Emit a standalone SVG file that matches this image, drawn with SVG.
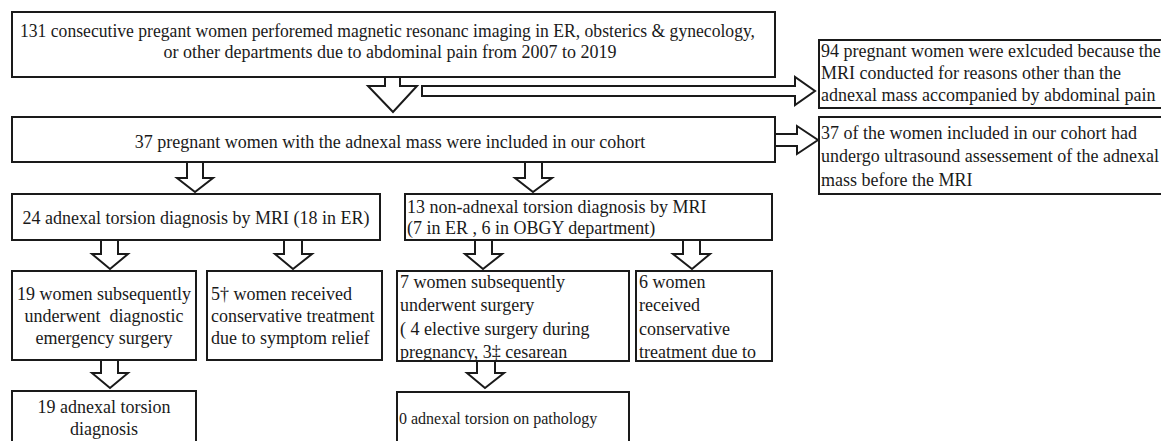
<svg xmlns="http://www.w3.org/2000/svg" width="1161" height="441" viewBox="0 0 1161 441">
<style>
.box{fill:none;stroke:#1a1a1a;stroke-width:2}
.arr{fill:#fff;stroke:#1a1a1a;stroke-width:2;stroke-linejoin:miter}
text{font-family:"Liberation Serif","Times New Roman",serif;font-size:18px;fill:#1a1a1a}
.c{text-anchor:middle}
.sm{font-size:16px}
</style>
<rect width="1161" height="441" fill="#fff"/>
<g id="connectors">
<polygon class="arr" points="385,77 400,77 400,86 417,86 393,112 368,86 385,86"/>
<polygon class="arr" points="422,86 795,86 795,77 815,91 795,105 795,96 422,96"/>
<polygon class="arr" points="775,134 797,134 797,126 818,140 797,154 797,146 775,146"/>
<polygon class="arr" points="187,162 203,162 203,178 213,178 195,192 177,178 187,178"/>
<polygon class="arr" points="525,162 542,162 542,178 552,178 533,192 515,178 525,178"/>
<polygon class="arr" points="101,240 118,240 118,254 128,254 110,269 92,254 101,254"/>
<polygon class="arr" points="284,240 302,240 302,254 312,254 293,269 275,254 284,254"/>
<polygon class="arr" points="475,240 492,240 492,254 502,254 483,269 465,254 475,254"/>
<polygon class="arr" points="683,240 700,240 700,254 710,254 692,269 673,254 683,254"/>
<polygon class="arr" points="101,360 118,360 118,373 128,373 110,388 92,373 101,373"/>
<polygon class="arr" points="477,361 495,361 495,373 504,373 485,388 467,373 477,373"/>
</g>
<g id="n1">
<text x="20" y="37" textLength="735" lengthAdjust="spacingAndGlyphs">131 consecutive pregant women perforemed magnetic resonanc imaging in ER, obsterics &amp; gynecology,</text>
<text class="c" x="390" y="58">or other departments due to abdominal pain from 2007 to 2019</text>
<rect class="box" x="12" y="12" width="763" height="65"/>
</g>
<g id="n_excluded">
<text x="821" y="57">94 pregnant women were exlcuded because the</text>
<text x="821" y="79">MRI conducted for reasons other than the</text>
<text x="821" y="101">adnexal mass accompanied by abdominal pain</text>
<rect class="box" x="819" y="40" width="360" height="68"/>
</g>
<g id="n2">
<text class="c" x="390" y="148">37 pregnant women with the adnexal mass were included in our cohort</text>
<rect class="box" x="12" y="117" width="763" height="45"/>
</g>
<g id="n_ultrasound">
<text x="821" y="139">37 of the women included in our cohort had</text>
<text x="821" y="162">undergo ultrasound assessement of the adnexal</text>
<text x="821" y="186">mass before the MRI</text>
<rect class="box" x="819" y="117" width="360" height="77"/>
</g>
<g id="n3">
<text class="c" x="196" y="224">24 adnexal torsion diagnosis by MRI (18 in ER)</text>
<rect class="box" x="12" y="194" width="368" height="46"/>
</g>
<g id="n4">
<text x="407" y="213">13 non-adnexal torsion diagnosis by MRI</text>
<text x="407" y="234">(7 in ER , 6 in OBGY department)</text>
<rect class="box" x="405" y="194" width="367" height="46"/>
</g>
<g id="n5">
<text class="c" x="104" y="300">19 women subsequently</text>
<text class="c" x="104" y="322" style="white-space:pre">underwent  diagnostic</text>
<text class="c" x="104" y="344">emergency surgery</text>
<rect class="box" x="12" y="271" width="184" height="89"/>
</g>
<g id="n6">
<text x="211" y="300">5† women received</text>
<text x="211" y="322">conservative treatment</text>
<text x="211" y="344">due to symptom relief</text>
<rect class="box" x="207" y="271" width="175" height="89"/>
</g>
<g id="n8">
<text x="400" y="288">7 women subsequently</text>
<text x="400" y="311">underwent surgery</text>
<text x="400" y="335">( 4 elective surgery during</text>
<text x="400" y="358">pregnancy, 3‡ cesarean</text>
<rect class="box" x="397" y="271" width="232" height="90"/>
</g>
<g id="n9">
<text x="639" y="288">6 women</text>
<text x="639" y="311">received</text>
<text x="639" y="335">conservative</text>
<text x="639" y="358">treatment due to</text>
<rect class="box" x="636" y="271" width="136" height="90"/>
</g>
<g id="n7">
<text class="c" x="104" y="413">19 adnexal torsion</text>
<text class="c" x="104" y="435">diagnosis</text>
<rect class="box" x="12" y="391" width="184" height="60"/>
</g>
<g id="n10">
<text class="sm" x="399" y="424">0 adnexal torsion on pathology</text>
<rect class="box" x="397" y="392" width="232" height="60"/>
</g>
</svg>
